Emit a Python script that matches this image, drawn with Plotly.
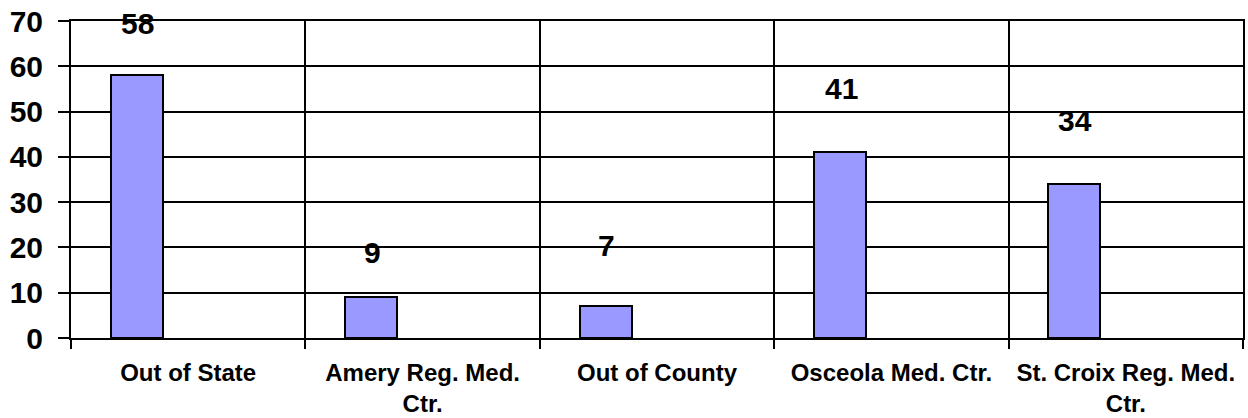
import plotly.graph_objects as go

categories = ["Out of State", "Amery Reg. Med. Ctr.", "Out of County",
              "Osceola Med. Ctr.", "St. Croix Reg. Med. Ctr."]
tick_labels = ["Out of State", "Amery Reg. Med.<br>Ctr.", "Out of County",
               "Osceola Med. Ctr.", "St. Croix Reg. Med.<br>Ctr."]
values = [58, 9, 7, 41, 34]
y_ticks = [0, 10, 20, 30, 40, 50, 60, 70]

# style / layout constants
W, H = 1248, 418
M = dict(l=71, r=5, t=21, b=80)
BAR_WIDTH = 0.222
BAR_OFFSET = -0.33
LABEL_SHIFT_PX = [52, 45, 61, 64, 64]  # manual label placement above bars
FONT = "Liberation Sans, Arial, sans-serif"

fig = go.Figure()
fig.add_trace(go.Bar(
    x=categories, y=values,
    width=BAR_WIDTH, offset=BAR_OFFSET,
    marker=dict(color="#9999FF", line=dict(color="black", width=2)),
    showlegend=False, hoverinfo="x+y",
))

cat_px = (W - M["l"] - M["r"]) / len(categories)
bar_center_shift = (BAR_OFFSET + BAR_WIDTH / 2) * cat_px
for c, v, s in zip(categories, values, LABEL_SHIFT_PX):
    fig.add_annotation(x=c, y=v, text=f"<b>{v}</b>", showarrow=False,
                       xref="x", yref="y", xanchor="center", yanchor="middle",
                       xshift=bar_center_shift + 1, yshift=s,
                       font=dict(family=FONT, size=30, color="black"))

fig.update_layout(
    width=W, height=H, margin=M,
    plot_bgcolor="white", paper_bgcolor="white",
    font=dict(family=FONT, color="black"),
    bargap=0,
)
fig.update_xaxes(
    type="category", tickson="boundaries", automargin=False,
    tickmode="array", tickvals=categories, ticktext=tick_labels,
    showgrid=True, gridcolor="black", gridwidth=2,
    showline=True, linecolor="black", linewidth=2, mirror=True,
    ticks="outside", ticklen=9, tickwidth=2, tickcolor="black",
    tickfont=dict(family=FONT, size=24, color="black", weight="bold"),
    range=[-0.5, len(categories) - 0.5],
    ticklabelstandoff=12,
)
fig.update_yaxes(
    range=[0, 70], tickvals=y_ticks, automargin=False,
    showgrid=True, gridcolor="black", gridwidth=2,
    showline=True, linecolor="black", linewidth=2, mirror=True,
    ticks="outside", ticklen=11, tickwidth=2, tickcolor="black",
    tickfont=dict(family=FONT, size=30, color="black", weight="bold"),
    zeroline=False, ticklabelstandoff=9,
)

fig.write_html(
    "out.html",
    config={"displayModeBar": False},
    post_script="document.body.style.margin='0';document.body.style.overflow='hidden';",
)
